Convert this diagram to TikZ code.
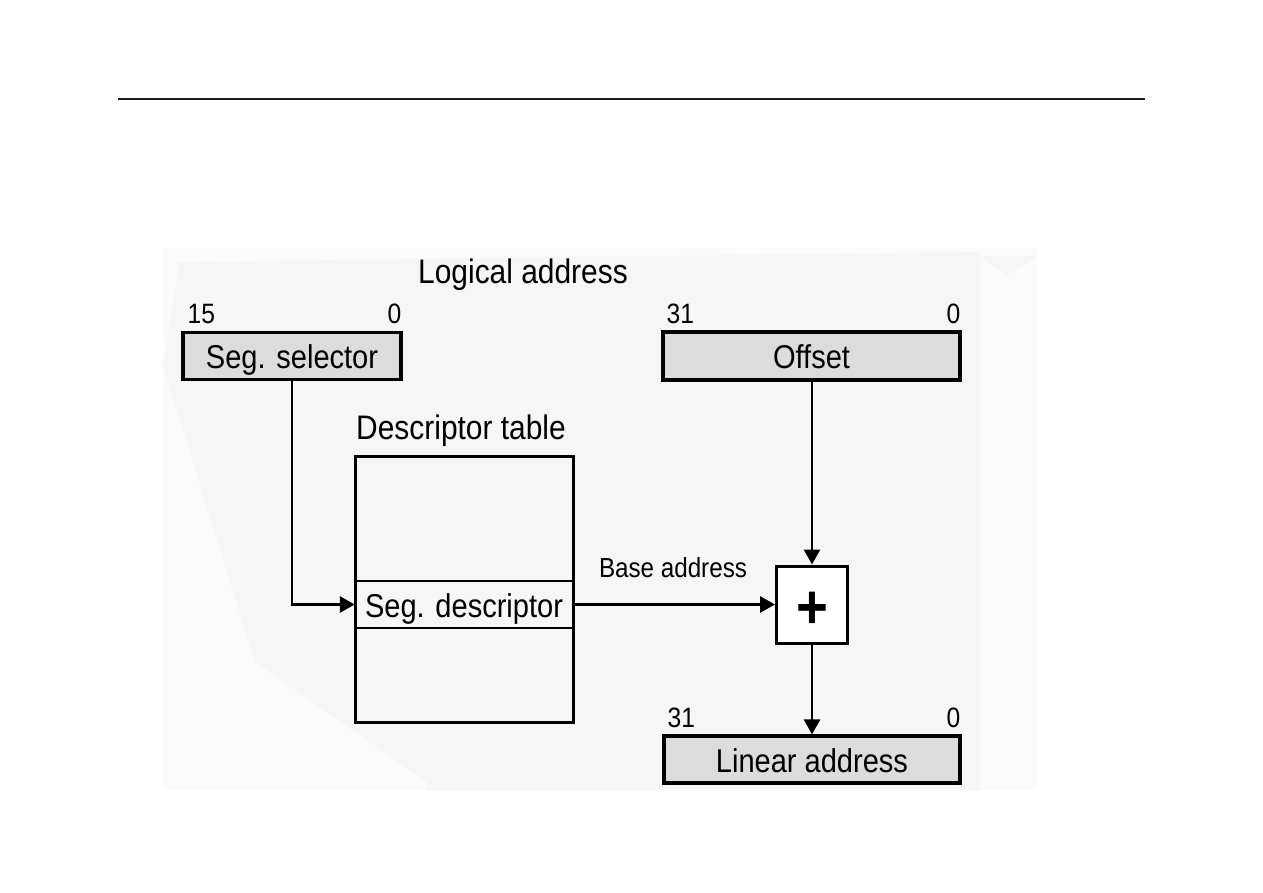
\documentclass[tikz,border=0pt]{standalone}
\usepackage{fontspec}
\setmainfont{Liberation Sans}[FakeStretch=0.88]
\usepackage{tikz}
\usetikzlibrary{arrows.meta,positioning,calc}
\definecolor{bgOuter}{RGB}{251,251,251}
\definecolor{bgInner}{RGB}{246,246,246}
\definecolor{fGray}{RGB}{220,220,220}
\definecolor{rule}{RGB}{30,30,30}

\begin{document}
\begin{tikzpicture}[x=1pt,y=-1pt,font=\fontsize{33}{36}\selectfont,
  reg/.style={draw=black,fill=fGray,line width=3.2pt,inner sep=0pt,text height=25pt,text depth=0pt},
  tbl/.style={draw=black,line width=3pt,inner sep=0pt,minimum width=218,minimum height=266},
  adder/.style={draw=black,fill=white,line width=3pt,inner sep=0pt,minimum width=71,minimum height=77,
                font=\fontsize{62}{62}\selectfont\bfseries,text height=47pt,text depth=0pt},
  title/.style={font=\fontsize{34}{38}\selectfont,inner sep=0pt,anchor=base},
  bit/.style={font=\fontsize{28}{30}\selectfont,inner sep=0pt},
  fl/.style={-{Triangle[length=15pt,width=16pt]},line width=2.8pt}]
\useasboundingbox (0,0) rectangle (1263,893);
% ---- page rule and background
\draw[rule,line width=1.2pt] (118,99) -- (1145,99);
\fill[bgOuter] (163,248) -- (1037,248) -- (1037,790) -- (163,790) -- cycle;
\fill[bgInner] (178,262) -- (980,252) -- (980,790) -- (427,790) -- (427,782)
  -- (255,662) -- (163,365) -- (178,273) -- cycle;
\fill[bgInner] (980,256) -- (1037,256) -- (1007,275) -- cycle;
% ---- logical address
\node[title] (logical) at (523,283.5) {Logical address};
\node[reg,minimum width=218,minimum height=47] (sel) at (292,356) {Seg. selector};
\node[reg,minimum width=297,minimum height=48] (off) at (811.5,356) {Offset};
\node[bit,anchor=base west] (sel15) at ($(sel.north west)+(6,-7)$) {15};
\node[bit,anchor=base east] (sel0) at ($(sel.north east)+(-1,-7)$) {0};
\node[bit,anchor=base west] (off31) at ($(off.north west)+(5,-7)$) {31};
\node[bit,anchor=base east] (off0) at ($(off.north east)+(-1,-7)$) {0};
% ---- descriptor table
\node[title] (tbltitle) at (461,439.5) {Descriptor table};
\node[tbl] (table) at (464,589) {};
\node[inner sep=0pt,minimum width=218,minimum height=47,text height=25pt,text depth=0pt] (desc) at (464,604.5) {Seg. descriptor};
\draw[line width=2.2pt] (desc.north west) -- (desc.north east);
\draw[line width=2.2pt] (desc.south west) -- (desc.south east);
% ---- adder and linear address
\node[adder] (plus) at (812,604.5) {+};
\node[reg,minimum width=296,minimum height=47] (lin) at (812,759.5) {Linear address};
\node[bit,anchor=base west] (lin31) at ($(lin.north west)+(5,-7)$) {31};
\node[bit,anchor=base east] (lin0) at ($(lin.north east)+(-1,-7)$) {0};
% ---- flows
\draw[fl] (sel.south) |- (desc.west);
\draw[fl] (desc.east) -- (plus.west);
\node[bit,font=\fontsize{27.5}{30}\selectfont,anchor=base] (base) at (673,577) {Base address};
\draw[fl] (plus.north |- off.south) -- (plus.north);
\draw[fl] (plus.south) -- (lin.north -| plus.south);
\end{tikzpicture}
\end{document}
